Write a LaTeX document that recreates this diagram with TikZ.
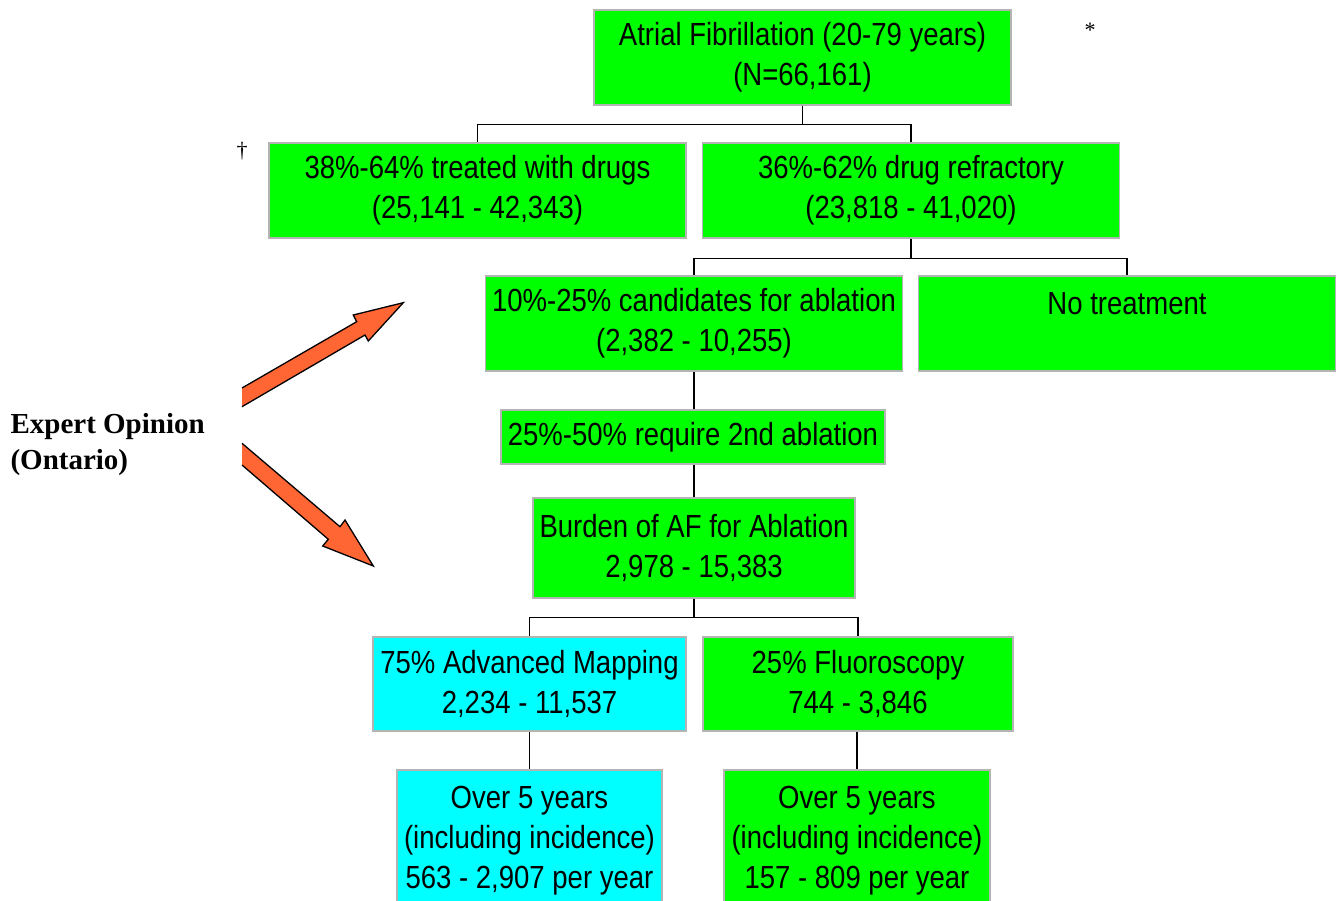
\documentclass[tikz,border=0pt]{standalone}
\usepackage{fontspec}
\usepackage{tikz}
\usepackage{xcolor}
\setmainfont[FakeStretch=0.86]{Liberation Sans}
\newfontfamily\notefont{Liberation Serif}
\usetikzlibrary{positioning}
\definecolor{afgreen}{HTML}{00FF00}
\definecolor{afcyan}{HTML}{00FFFF}
\definecolor{boxgray}{HTML}{B4B4B4}
\definecolor{arroworange}{HTML}{FF6633}
\tikzstyle{greenbox} = [rectangle, minimum width=417pt, minimum height=95pt, inner sep=0pt, text centered, align=center, draw=boxgray, line width=1.5pt, fill=afgreen, font=\fontsize{32}{40}\selectfont]
\tikzstyle{cyanbox} = [greenbox, fill=afcyan]
\tikzstyle{link} = [line width=1.3pt]
\tikzstyle{bigarrow} = [draw=black, line width=1.3pt, fill=arroworange, line join=miter]

\begin{document}
\begin{tikzpicture}[x=1pt, y=-1pt]
        \useasboundingbox (0,0) rectangle (1336,901);
        \node (af) [greenbox] at (802.5,57.5) {Atrial Fibrillation (20-79 years)\\(N=66,161)};
        \node (drugs) [greenbox] at (477.5,190.5) {38\%-64\% treated with drugs\\(25,141 - 42,343)};
        \node (refractory) [greenbox] at (911,190.5) {36\%-62\% drug refractory\\(23,818 - 41,020)};
        \node (candidates) [greenbox] at (694,323.5) {10\%-25\% candidates for ablation\\(2,382 - 10,255)};
        \node (notreat) [greenbox] at (1127,323.5) {No treatment\\\mbox{}};
        \node (second) [greenbox, minimum width=384pt, minimum height=54pt] at (693,437) {25\%-50\% require 2nd ablation};
        \node (burden) [greenbox, minimum width=322pt, minimum height=100pt] at (694,548) {Burden of AF for Ablation\\2,978 - 15,383};
        \node (mapping) [cyanbox, minimum width=313pt, minimum height=94pt] at (529.5,684) {75\% Advanced Mapping\\2,234 - 11,537};
        \node (fluoro) [greenbox, minimum width=310pt, minimum height=94pt] at (858,684) {25\% Fluoroscopy\\744 - 3,846};
        \node (mapyears) [cyanbox, minimum width=265pt, minimum height=142pt] at (529.5,841) {Over 5 years\\(including incidence)\\563 - 2,907 per year};
        \node (fluoroyears) [greenbox, minimum width=266pt, minimum height=142pt] at (857,841) {Over 5 years\\(including incidence)\\157 - 809 per year};

        \node (star) [font=\notefont\fontsize{22}{26}\selectfont] at (1090,30) {*};
        \node (dagger) [font=\notefont\fontsize{22}{26}\selectfont] at (242,151) {†};
        \node (expert) [anchor=west, align=left, font=\notefont\bfseries\fontsize{29}{36}\selectfont] at (7,445) {Expert Opinion\\(Ontario)};

        \draw [link] (af.south) -- ++(0,19) -| (drugs.north);
        \draw [link] (af.south) -- ++(0,19) -| (refractory.north);
        \draw [link] (refractory.south) -- ++(0,20) -| (candidates.north);
        \draw [link] (refractory.south) -- ++(0,20) -| (notreat.north);
        \draw [link] (candidates.south) -- (candidates.south |- second.north);
        \draw [link] (second.south -| burden.north) -- (burden.north);
        \draw [link] (burden.south) -- ++(0,19) -| (mapping.north);
        \draw [link] (burden.south) -- ++(0,19) -| (fluoro.north);
        \draw [link] (mapping.south) -- (mapyears.north);
        \draw [link] (fluoro.south -| fluoroyears.north) -- (fluoroyears.north);

        % block arrows from the expert opinion
        \draw [bigarrow] (242,388) -- (356.7,321.7) -- (353.3,315) -- (403.3,302.7) -- (368.3,341) -- (365,335) -- (242,406.7);
        \draw [bigarrow] (242,443.3) -- (340,526.7) -- (345,520) -- (373.3,566) -- (322.7,546) -- (328.3,539.3) -- (242,465);
    \end{tikzpicture}
\end{document}
